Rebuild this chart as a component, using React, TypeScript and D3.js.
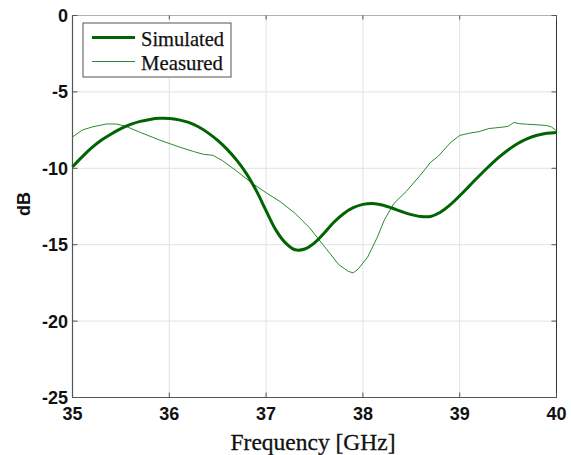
import React from "react";
import * as d3 from "d3";

// Return loss, simulated vs. measured, 35–40 GHz
const simFreq = [35.0, 35.1, 35.2, 35.3, 35.4, 35.5, 35.6, 35.7, 35.8, 35.9, 36.0, 36.1, 36.2, 36.3, 36.4, 36.5, 36.6, 36.7, 36.8, 36.9, 37.0, 37.1, 37.2, 37.3, 37.4, 37.5, 37.6, 37.7, 37.8, 37.9, 38.0, 38.1, 38.2, 38.3, 38.4, 38.5, 38.6, 38.7, 38.8, 38.9, 39.0, 39.1, 39.2, 39.3, 39.4, 39.5, 39.6, 39.7, 39.8, 39.9, 40.0];
const simDb = [-9.9, -9.25, -8.65, -8.15, -7.75, -7.4, -7.13, -6.93, -6.8, -6.73, -6.74, -6.83, -7.0, -7.28, -7.68, -8.18, -8.78, -9.5, -10.38, -11.48, -12.78, -14.03, -14.88, -15.33, -15.28, -14.88, -14.23, -13.53, -12.97, -12.58, -12.36, -12.3, -12.4, -12.6, -12.83, -13.03, -13.16, -13.15, -12.88, -12.4, -11.8, -11.15, -10.5, -9.88, -9.3, -8.8, -8.38, -8.06, -7.84, -7.71, -7.65];

const measFreq = [35.0, 35.1, 35.2, 35.35, 35.45, 35.55, 35.7, 35.9, 36.1, 36.25, 36.35, 36.45, 36.55, 36.7, 36.85, 37.0, 37.15, 37.3, 37.45, 37.6, 37.75, 37.85, 37.9, 37.95, 38.05, 38.15, 38.22, 38.32, 38.45, 38.6, 38.7, 38.78, 38.9, 39.0, 39.1, 39.2, 39.3, 39.45, 39.5, 39.56, 39.62, 39.7, 39.8, 39.9, 39.95, 40.0];
const measDb = [-7.95, -7.5, -7.3, -7.1, -7.1, -7.25, -7.65, -8.15, -8.6, -8.9, -9.08, -9.15, -9.5, -10.2, -10.95, -11.6, -12.2, -12.95, -13.9, -15.1, -16.3, -16.75, -16.84, -16.6, -15.8, -14.5, -13.4, -12.3, -11.5, -10.4, -9.6, -9.2, -8.35, -7.85, -7.7, -7.6, -7.4, -7.3, -7.25, -7.0, -7.08, -7.12, -7.15, -7.2, -7.3, -7.55];

const xTicks = [35, 36, 37, 38, 39, 40];
const yTicks = [0, -5, -10, -15, -20, -25];
const seriesNames = ["Simulated", "Measured"];

const W = 571;
const H = 455;
const left = 72.5;
const right = 556.5;
const top = 15.5;
const bottom = 397.5;

const SIM_COLOR = "#006400";
const MEAS_COLOR = "#2b8a2b";
const SANS = "'Liberation Sans', Arial, Helvetica, sans-serif";
const SERIF = "'Liberation Serif', 'Times New Roman', serif";

export default function App() {
  const x = d3.scaleLinear().domain([35, 40]).range([left, right]);
  const y = d3.scaleLinear().domain([-25, 0]).range([bottom, top]);

  const simPts: [number, number][] = simFreq.map((f, i) => [f, simDb[i]]);
  const measPts: [number, number][] = measFreq.map((f, i) => [f, measDb[i]]);

  const simLine = d3
    .line<[number, number]>()
    .x((d) => x(d[0]))
    .y((d) => y(d[1]))
    .curve(d3.curveCatmullRom.alpha(0.5));
  const measLine = d3
    .line<[number, number]>()
    .x((d) => x(d[0]))
    .y((d) => y(d[1]))
    .curve(d3.curveLinear);

  const legX = 83;
  const legY = 23;

  return (
    <svg
      width={W}
      height={H}
      style={{ position: "absolute", left: 0, top: 0, background: "#fff" }}
    >
      <rect x={0} y={0} width={W} height={H} fill="#fff" />
      {/* grid */}
      {xTicks.map((t) => (
        <line key={"gx" + t} x1={x(t)} x2={x(t)} y1={top} y2={bottom} stroke="#e2e2e2" strokeWidth={1} />
      ))}
      {yTicks.map((t) => (
        <line key={"gy" + t} x1={left} x2={right} y1={y(t)} y2={y(t)} stroke="#e2e2e2" strokeWidth={1} />
      ))}

      {/* frame */}
      <line x1={left} x2={right} y1={top} y2={top} stroke="#b0b0b0" strokeWidth={1} />
      <line x1={right} x2={right} y1={top} y2={bottom} stroke="#333" strokeWidth={1} />
      <line x1={left} x2={left} y1={top} y2={bottom} stroke="#555" strokeWidth={1.2} />
      <line x1={left} x2={right} y1={bottom} y2={bottom} stroke="#555" strokeWidth={1.2} />

      {/* ticks */}
      {xTicks.map((t) => (
        <g key={"tx" + t}>
          <line x1={x(t)} x2={x(t)} y1={bottom} y2={bottom - 5} stroke="#555" />
          <line x1={x(t)} x2={x(t)} y1={top} y2={top + 4} stroke="#555" />
          <text
            x={x(t)}
            y={419.5}
            textAnchor="middle"
            fontFamily={SANS}
            fontWeight="bold"
            fontSize={18}
            fill="#111"
          >
            {t}
          </text>
        </g>
      ))}
      {yTicks.map((t) => (
        <g key={"ty" + t}>
          <line x1={left} x2={left + 5} y1={y(t)} y2={y(t)} stroke="#555" />
          <line x1={right} x2={right - 5} y1={y(t)} y2={y(t)} stroke="#555" />
          <text
            x={68}
            y={y(t) + 6.5}
            textAnchor="end"
            fontFamily={SANS}
            fontWeight="bold"
            fontSize={18}
            fill="#111"
          >
            {t}
          </text>
        </g>
      ))}

      {/* axis titles */}
      <text
        x={313}
        y={450}
        textAnchor="middle"
        fontFamily={SERIF}
        fontSize={24}
        textLength={165}
        lengthAdjust="spacingAndGlyphs"
        fill="#111"
        stroke="#111"
        strokeWidth={0.3}
      >
        Frequency [GHz]
      </text>
      <text
        transform="translate(29.5,204) rotate(-90)"
        textAnchor="middle"
        fontFamily={SANS}
        fontWeight="bold"
        fontSize={18}
        fill="#111"
      >
        dB
      </text>

      {/* curves */}
      <path d={measLine(measPts) ?? ""} fill="none" stroke={MEAS_COLOR} strokeWidth={1} />
      <path d={simLine(simPts) ?? ""} fill="none" stroke={SIM_COLOR} strokeWidth={3} />

      {/* legend */}
      <rect x={legX} y={legY} width={148} height={54} fill="#fff" stroke="#555" strokeWidth={1} />
      <line x1={92} x2={135} y1={37.5} y2={37.5} stroke={SIM_COLOR} strokeWidth={3} />
      <line x1={92} x2={135} y1={61.5} y2={61.5} stroke={MEAS_COLOR} strokeWidth={1} />
      <text
        x={141}
        y={46}
        fontFamily={SERIF}
        fontSize={22}
        textLength={83}
        lengthAdjust="spacingAndGlyphs"
        fill="#111"
        stroke="#111"
        strokeWidth={0.25}
      >
        {seriesNames[0]}
      </text>
      <text
        x={141}
        y={70}
        fontFamily={SERIF}
        fontSize={22}
        textLength={82}
        lengthAdjust="spacingAndGlyphs"
        fill="#111"
        stroke="#111"
        strokeWidth={0.25}
      >
        {seriesNames[1]}
      </text>
    </svg>
  );
}
